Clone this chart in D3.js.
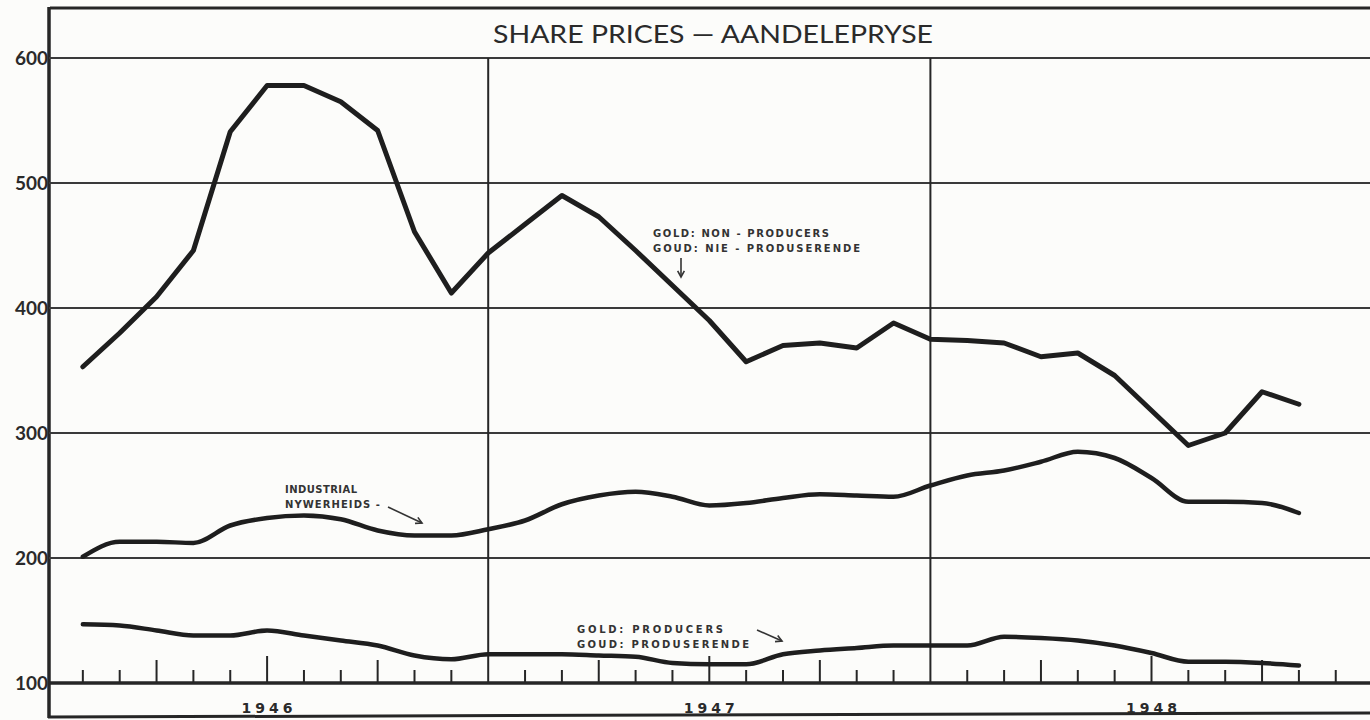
<!DOCTYPE html>
<html>
<head>
<meta charset="utf-8">
<script src="https://cdn.jsdelivr.net/npm/d3@7"></script>
<style>
body{margin:0;background:#fcfcfa;}
svg{display:block;}
.ylab{font-family:Lato,"DejaVu Sans",sans-serif;font-size:19px;font-weight:bold;fill:#2a2a2a;}
.year{font-family:"DejaVu Sans",sans-serif;font-size:14px;font-weight:bold;fill:#2a2a2a;letter-spacing:4px;}
.title{font-family:Lato,"DejaVu Sans",sans-serif;font-size:25px;fill:#2a2a2a;}
.note{font-family:"DejaVu Sans",sans-serif;font-size:10px;font-weight:bold;fill:#333;}
</style>
</head>
<body>
<svg></svg>
<script>
//month labels, Jan 1946 .. Oct 1948
var months = ["Jan46","Feb46","Mar46","Apr46","May46","Jun46","Jul46","Aug46","Sep46","Oct46","Nov46","Dec46",
              "Jan47","Feb47","Mar47","Apr47","May47","Jun47","Jul47","Aug47","Sep47","Oct47","Nov47","Dec47",
              "Jan48","Feb48","Mar48","Apr48","May48","Jun48","Jul48","Aug48","Sep48","Oct48"];

var nonProducers = [353,380,409,446,541,578,578,565,542,461,412,444,
                    467,490,473,446,418,390,357,370,372,368,388,375,
                    374,372,361,364,346,318,290,300,333,323];

var industrial = [201,213,213,212,226,232,234,231,222,218,218,223,
                  230,243,250,253,249,242,244,248,251,250,249,258,
                  266,270,277,285,280,264,245,245,244,236];

var producers = [147,146,142,138,138,142,138,134,130,122,119,123,
                 123,123,122,121,116,115,115,123,126,128,130,130,
                 130,137,136,134,130,124,117,117,116,114];

var yTicks = [100,200,300,400,500,600];
var years = ["1946","1947","1948"];

var makeTranslateString = function(x,y)
{
    return "translate("+x+","+y+")";
}

var initGraph = function()
{
    var screen = {width:1370,height:720}
    var svg = d3.select("svg")
        .attr("width",screen.width)
        .attr("height",screen.height)

    //x is month count from start of 1946 (0 = 1 Jan 1946)
    var xScale = d3.scaleLinear()
        .domain([0,36])
        .range([46,1372.6])

    var yScale = d3.scaleLinear()
        .domain([100,600])
        .range([683,58])

    var ink = "#262626";

    //frame
    svg.append("line").attr("x1",50).attr("x2",1370).attr("y1",8).attr("y2",8)
        .attr("stroke",ink).attr("stroke-width",3)
    svg.append("line").attr("x1",49).attr("x2",49).attr("y1",7).attr("y2",718)
        .attr("stroke",ink).attr("stroke-width",3.5)
    svg.append("line").attr("x1",48).attr("x2",1370).attr("y1",717).attr("y2",713)
        .attr("stroke",ink).attr("stroke-width",3)

    //horizontal grid
    svg.append("g").selectAll("line")
        .data(yTicks.filter(function(d){return d>100;}))
        .enter()
        .append("line")
        .attr("x1",49).attr("x2",1370)
        .attr("y1",function(d){return yScale(d);})
        .attr("y2",function(d){return yScale(d);})
        .attr("stroke","#3a3a3a")
        .attr("stroke-width",2)

    //base line (100)
    svg.append("line").attr("x1",49).attr("x2",1370)
        .attr("y1",yScale(100)).attr("y2",yScale(100))
        .attr("stroke",ink).attr("stroke-width",3.5)

    //year dividers
    svg.append("g").selectAll("line")
        .data([12,24])
        .enter()
        .append("line")
        .attr("x1",function(d){return xScale(d);})
        .attr("x2",function(d){return xScale(d);})
        .attr("y1",yScale(600)).attr("y2",yScale(100))
        .attr("stroke",ink).attr("stroke-width",2)

    //month ticks
    svg.append("g").selectAll("line")
        .data(d3.range(1,36).filter(function(d){return d%12!=0;}))
        .enter()
        .append("line")
        .attr("x1",function(d){return xScale(d);})
        .attr("x2",function(d){return xScale(d);})
        .attr("y1",function(d){
            if(d%6==0) return yScale(100)-27;
            if(d%3==0) return yScale(100)-23;
            return yScale(100)-13;
        })
        .attr("y2",yScale(100))
        .attr("stroke",ink).attr("stroke-width",2)

    //y labels
    svg.append("g").selectAll("text")
        .data(yTicks)
        .enter()
        .append("text")
        .classed("ylab",true)
        .attr("x",48)
        .attr("y",function(d){return yScale(d)+7;})
        .attr("text-anchor","end")
        .text(function(d){return d;})

    //year labels
    svg.append("g").selectAll("text")
        .data(years)
        .enter()
        .append("text")
        .classed("year",true)
        .attr("x",function(d,i){return xScale(6+12*i)+2;})
        .attr("y",713)
        .attr("text-anchor","middle")
        .text(function(d){return d;})

    //title
    svg.append("text")
        .classed("title",true)
        .attr("x",713).attr("y",43)
        .attr("text-anchor","middle")
        .attr("textLength",440)
        .attr("lengthAdjust","spacingAndGlyphs")
        .text("SHARE PRICES \u2014 AANDELEPRYSE")

    //series
    var drawSeries = function(values,width,curve)
    {
        var line = d3.line()
            .x(function(d,i){return xScale(i+1);})
            .y(function(d){return yScale(d);})
            .curve(curve)
        svg.append("path")
            .datum(values)
            .attr("d",line)
            .attr("fill","none")
            .attr("stroke","#1e1e1e")
            .attr("stroke-width",width)
            .attr("stroke-linejoin","round")
            .attr("stroke-linecap","round")
    }
    drawSeries(nonProducers,5,d3.curveLinear);
    drawSeries(industrial,4.5,d3.curveMonotoneX);
    drawSeries(producers,4.5,d3.curveMonotoneX);

    //annotations
    var note = function(lines,x,y,lens)
    {
        lines.forEach(function(t,i){
            svg.append("text")
                .classed("note",true)
                .attr("x",x).attr("y",y+i*15)
                .attr("textLength",lens[i])
                .attr("lengthAdjust","spacing")
                .text(t)
        })
    }
    var arrow = function(x1,y1,x2,y2)
    {
        svg.append("line").attr("x1",x1).attr("y1",y1).attr("x2",x2).attr("y2",y2)
            .attr("stroke","#333").attr("stroke-width",1.6)
        var a = Math.atan2(y2-y1,x2-x1);
        var h = 7;
        var p = [[x2,y2],
                 [x2-h*Math.cos(a-0.5),y2-h*Math.sin(a-0.5)],
                 [x2-h*Math.cos(a+0.5),y2-h*Math.sin(a+0.5)]];
        svg.append("polyline")
            .attr("points",[p[1],p[0],p[2]].map(function(q){return q.join(",");}).join(" "))
            .attr("fill","none").attr("stroke","#333").attr("stroke-width",1.6)
    }

    note(["GOLD: NON - PRODUCERS","GOUD: NIE - PRODUSERENDE"],653,237,[176,207]);
    arrow(681,258,681,277);

    note(["INDUSTRIAL","NYWERHEIDS -"],285,493,[72,95]);
    arrow(388,507,422,523);

    note(["GOLD: PRODUCERS","GOUD: PRODUSERENDE"],577,633,[146,172]);
    arrow(757,630,782,641);
}

initGraph();
</script>
</body>
</html>
